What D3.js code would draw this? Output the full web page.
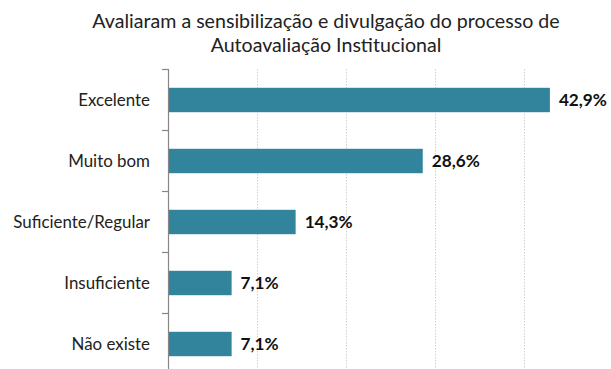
<!DOCTYPE html>
<html>
<head>
<meta charset="utf-8">
<script src="https://cdn.jsdelivr.net/npm/d3@7"></script>
<style>
  html, body { margin: 0; padding: 0; background: #fff; }
  svg { display: block; }
  text { font-family: Lato, "Open Sans", sans-serif; }
</style>
</head>
<body>
<svg id="chart" width="611" height="369"></svg>
<script>
// Avaliação da sensibilização e divulgação (percentual de respostas)
const categories = ["Excelente", "Muito bom", "Suficiente/Regular", "Insuficiente", "Não existe"];
const values = [42.9, 28.6, 14.3, 7.1, 7.1];
const gridTicks = [10, 20, 30, 40];
const titleLines = ["Avaliaram a sensibilização e divulgação do processo de", "Autoavaliação Institucional"];

const svg = d3.select("#chart");
const W = 611, H = 369;

const x = d3.scaleLinear().domain([0, 50]).range([168.5, 613]);
const y = d3.scaleBand().domain(categories).range([69.5, 374.5]).paddingInner(0.6).paddingOuter(0.3);

// Title
svg.append("g").selectAll("text")
  .data(titleLines)
  .join("text")
  .attr("x", 326)
  .attr("y", (d, i) => 28 + i * 24)
  .attr("text-anchor", "middle")
  .attr("font-size", 19.6)
  .attr("fill", "#222")
  .text(d => d);

// Vertical dotted gridlines
svg.append("g").selectAll("line")
  .data(gridTicks)
  .join("line")
  .attr("x1", d => Math.round(x(d)) + 0.5)
  .attr("x2", d => Math.round(x(d)) + 0.5)
  .attr("y1", 69)
  .attr("y2", H)
  .attr("stroke", "#d0d0d0")
  .attr("stroke-width", 1)
  .attr("stroke-dasharray", "1.5,1.5");

// Bars
svg.append("g").selectAll("rect")
  .data(values)
  .join("rect")
  .attr("x", x(0))
  .attr("y", (d, i) => y(categories[i]))
  .attr("width", d => x(d) - x(0))
  .attr("height", y.bandwidth())
  .attr("fill", "#31849b");

// Category axis with outward ticks at band boundaries
const axisG = svg.append("g");
axisG.append("line")
  .attr("x1", 168.5).attr("x2", 168.5)
  .attr("y1", 69).attr("y2", H)
  .attr("stroke", "#868686").attr("stroke-width", 1.2);
const step = y.step();
const bandTop = i => y(categories[i]) + y.bandwidth() / 2 - step / 2;
axisG.selectAll("line.tick")
  .data(d3.range(categories.length))
  .join("line")
  .attr("class", "tick")
  .attr("x1", 162).attr("x2", 168.5)
  .attr("y1", i => Math.round(bandTop(i)) + 0.5)
  .attr("y2", i => Math.round(bandTop(i)) + 0.5)
  .attr("stroke", "#868686").attr("stroke-width", 1.2);

// Category labels
svg.append("g").selectAll("text")
  .data(categories)
  .join("text")
  .attr("x", 150)
  .attr("y", d => y(d) + y.bandwidth() / 2)
  .attr("dy", "0.35em")
  .attr("text-anchor", "end")
  .attr("font-size", 16.9)
  .attr("fill", "#222")
  .text(d => d);

// Value labels
svg.append("g").selectAll("text")
  .data(values)
  .join("text")
  .attr("x", d => x(d) + 9)
  .attr("y", (d, i) => y(categories[i]) + y.bandwidth() / 2)
  .attr("dy", "0.35em")
  .attr("font-size", 17.2)
  .attr("font-weight", "bold")
  .attr("fill", "#111")
  .text(d => d.toFixed(1).replace(".", ",") + "%");
</script>
</body>
</html>
